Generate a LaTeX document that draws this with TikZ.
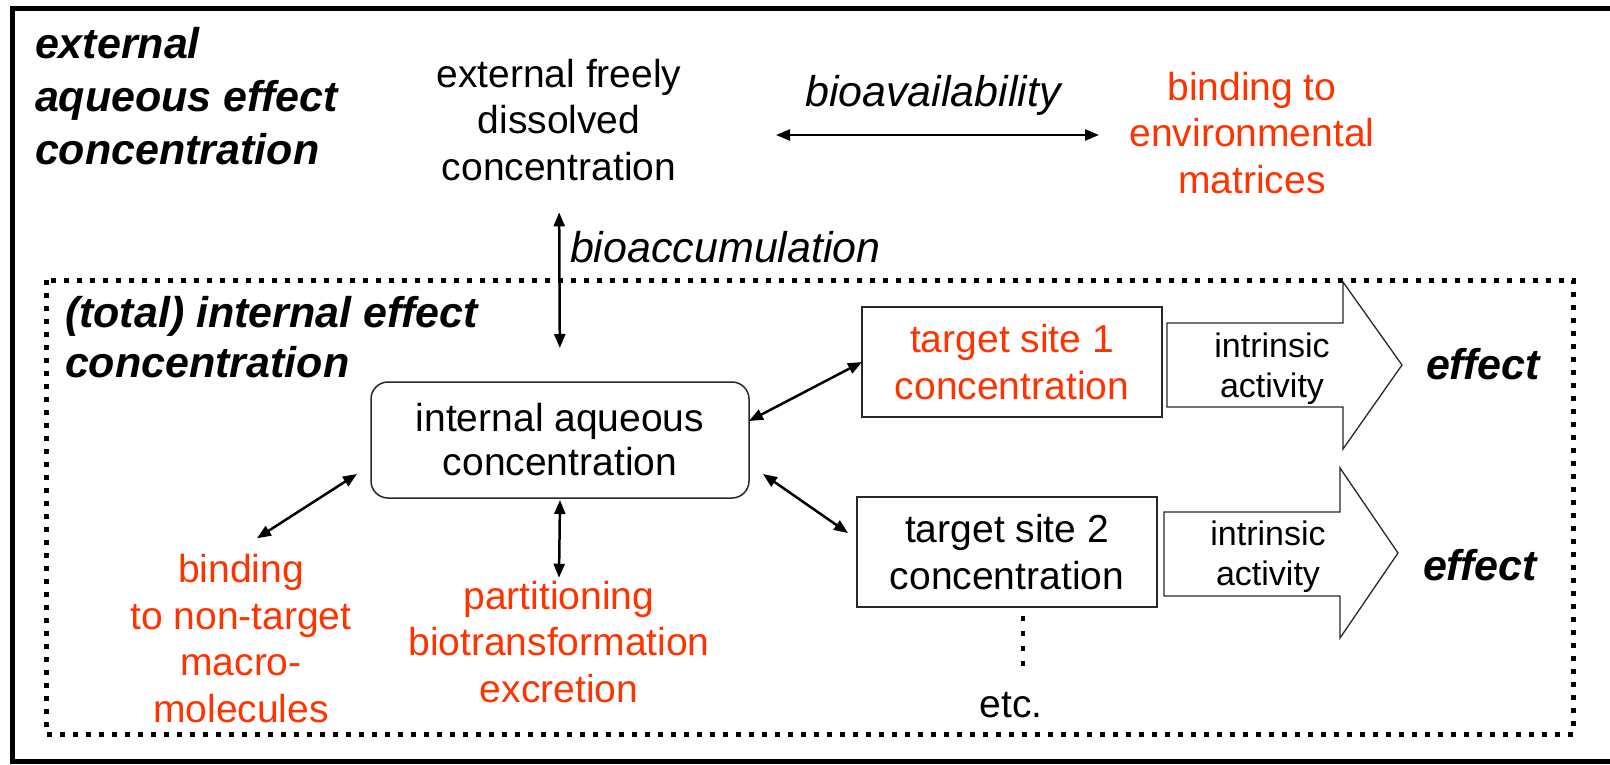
\documentclass[tikz,border=0pt]{standalone}
\usepackage{fontspec}
\setmainfont{Liberation Sans}
\usetikzlibrary{arrows.meta,calc}
\definecolor{hot}{RGB}{255,51,0}
\definecolor{edge}{RGB}{40,40,40}
\begin{document}
\begin{tikzpicture}[x=1pt,y=-1pt,
  every node/.style={inner sep=0pt, outer sep=0pt},
  plain/.style={font=\fontsize{39}{46.5}\selectfont, align=center, anchor=base},
  note/.style={plain, text=hot},
  heading/.style={font=\fontsize{43}{53}\selectfont\bfseries\itshape, align=left, anchor=base west},
  process/.style={font=\fontsize{43}{50}\selectfont\itshape, anchor=base},
  small/.style={font=\fontsize{34}{40}\selectfont, align=center, anchor=base},
  sitebox/.style={draw=edge, line width=1.8pt, minimum width=300pt, minimum height=110pt, font=\fontsize{39}{46.5}\selectfont, align=center},
  poolbox/.style={draw=edge, line width=1.5pt, rounded corners=17pt, minimum width=378pt, minimum height=116pt, font=\fontsize{39}{44}\selectfont, align=center},
  link/.style={line width=2.5pt, {Triangle[length=14pt,width=11pt]}-{Triangle[length=14pt,width=11pt]}},
  bigarrow/.style={draw=edge, line width=1.3pt, fill=white},
]
% canvas (the frame runs past the right edge of the page)
\useasboundingbox (0,0) rectangle (1610,764);
\fill[white] (0,0) rectangle (1610,764);
\draw[line width=5pt] (12,8) rectangle (1625,761);

% organism compartment
\draw[line width=5pt, dash pattern=on 5pt off 8pt] (46,280) rectangle (1573,734);

% outside the organism (multi-line nodes sit on the baseline of their last line)
\node[heading] (extTitle) at (35,164) {external\\aqueous effect\\concentration};
\node[plain] (free) at (559,180) {external freely\\dissolved\\concentration};
\node[process] (bioavail) at (933,106) {bioavailability};
\node[note] (envbind) at (1252,193) {binding to\\environmental\\matrices};
\coordinate (ba1) at (776,135);
\coordinate (ba2) at (1099,135);
\draw[link] (ba1) -- (ba2);

% inside the organism
\node[heading, font=\fontsize{43}{50}\selectfont\bfseries\itshape] (intTitle) at (65,377) {(total) internal effect\\concentration};
\node[poolbox] (aq) at (560,440) {internal aqueous\\concentration};
\node[process, anchor=base west] (bioacc) at (570,262) {bioaccumulation};
\draw[link, shorten <=32pt, shorten >=34pt] (free.south) -- (aq.north);

\node[sitebox, text=hot] (t1) at (1012,362) {target site 1\\concentration};
\node[sitebox] (t2) at (1007,552) {target site 2\\concentration};

\node[note] (nontarget) at (241,722) {binding\\to non-target\\macro-\\molecules};
\node[note] (part) at (559,702) {partitioning\\biotransformation\\excretion};

\draw[link] ([yshift=19pt]aq.east) -- (t1.west);
\draw[link] ([shift={(14pt,-34pt)}]aq.east) -- ([shift={(-9pt,19pt)}]t2.west);
\draw[link] ([shift={(-14pt,-34pt)}]aq.west) -- ([shift={(16pt,16pt)}]nontarget.north);
\draw[link] ([yshift=-2pt]aq.south) -- ([yshift=3pt]part.north);

% intrinsic activity arrows
\draw[bigarrow] (1167,323) -- (1343,323) -- (1343,282) -- (1402,365) -- (1343,449) -- (1343,407) -- (1167,407) -- cycle;
\draw[bigarrow] (1164,512) -- (1340,512) -- (1340,468) -- (1398,553) -- (1340,638) -- (1340,596) -- (1164,596) -- cycle;
\node[small] (ia1) at (1272,397) {intrinsic\\activity};
\node[small] (ia2) at (1268,585) {intrinsic\\activity};
\node[process, font=\fontsize{43}{50}\selectfont\bfseries\itshape] (eff1) at (1483,379) {effect};
\node[process, font=\fontsize{43}{50}\selectfont\bfseries\itshape] (eff2) at (1480,580) {effect};

% further target sites
\draw[line width=4.5pt, dash pattern=on 4.5pt off 10.5pt] (1023,616) -- (1023,666);
\node[plain] (etc) at (1011,717) {etc.};
\end{tikzpicture}
\end{document}
